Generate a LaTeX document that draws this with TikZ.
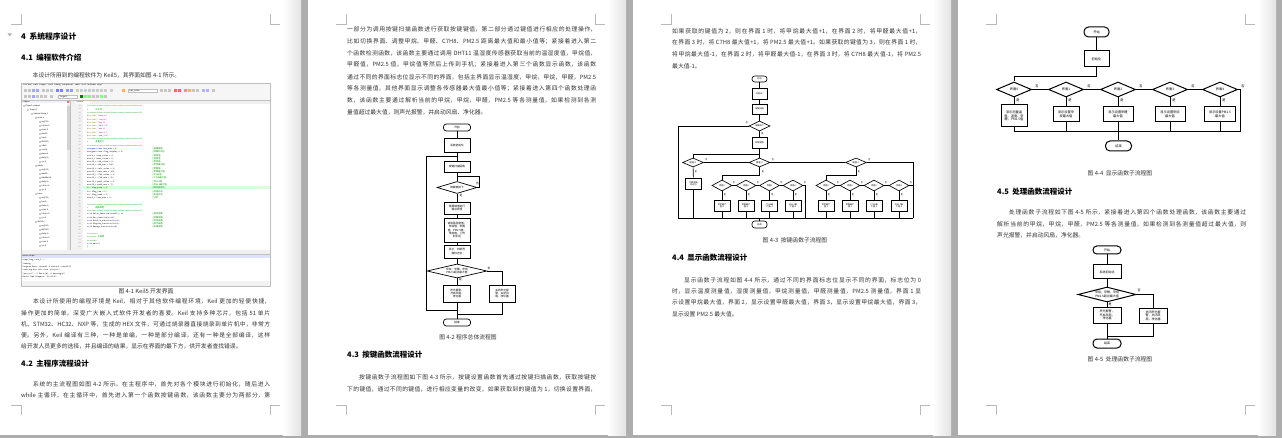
\documentclass[tikz,border=0pt]{standalone}
\usepackage{fontspec}
\setmainfont{Noto Sans CJK SC}
\usetikzlibrary{shapes.geometric}
\XeTeXlinebreaklocale "zh"
\XeTeXlinebreakskip=0pt plus 1pt minus 0.1pt
\definecolor{pagegray}{gray}{0.68}
\definecolor{kcom}{RGB}{0,150,0}
\definecolor{kstr}{RGB}{150,0,150}
\definecolor{kinc}{RGB}{140,120,0}
\definecolor{kkey}{RGB}{0,0,190}
\definecolor{kbit}{RGB}{190,0,0}
\newcommand{\justln}[2]{\parbox{#1}{\parfillskip=0pt\relax #2}}
\newcommand{\codeln}[2]{\makebox[65pt][l]{#1}{\color{kcom}\rmfamily #2}}
\begin{document}
\begin{tikzpicture}[x=1pt, y=-1pt,
    body/.style={anchor=west, inner sep=0pt, text=black!80, font=\fontsize{5.8}{6}\selectfont},
    head/.style={anchor=west, inner sep=0pt, font=\fontsize{7.5}{8}\selectfont\bfseries},
    capt/.style={inner sep=0pt, text=black!80, font=\fontsize{5.8}{6}\selectfont},
    fbox/.style={draw, inner sep=0.3pt, align=center},
    fterm/.style={draw, rounded corners=2.8pt, inner sep=0.3pt, align=center},
    fdia/.style={draw, diamond, inner sep=0pt, align=center},
    lab/.style={inner sep=0pt},
    wtext/.style={anchor=west, inner sep=0pt, font=\fontsize{2.1}{2.4}\selectfont},
    wcode/.style={inner sep=0pt, align=left, font=\ttfamily\fontsize{2.2}{3.27}\selectfont}]
\useasboundingbox (0,0) rectangle (1282,438);

% pages
\fill[pagegray] (0,0) rectangle (1282,438);
\foreach \px in {-17,308,633,958} {
    \fill[white] (\px,0) rectangle (\px+318,435);
    \shade[left color=white, right color=gray!22] (\px+300,0) rectangle (\px+318,435);
    \draw[gray!55, line width=0.5pt] (\px+28,24) -- (\px+38,24) -- (\px+38,14);
    \draw[gray!55, line width=0.5pt] (\px+297,24) -- (\px+287,24) -- (\px+287,14);
    \draw[gray!55, line width=0.5pt] (\px+28,405) -- (\px+38,405) -- (\px+38,415);
    \draw[gray!55, line width=0.5pt] (\px+297,405) -- (\px+287,405) -- (\px+287,415);
}
\fill[gray!60] (7.5,33.5) -- (12,33.5) -- (9.75,36.5) -- cycle;

% page 1
\node[head, font=\fontsize{7.8}{8}\selectfont\bfseries] (h4) at (21,37) {4\ \ 系统程序设计};
\node[head] (h41) at (21,58) {4.1\ \ 编程软件介绍};
\node[body] (t41) at (32.5,75) {本设计所用到的编程软件为 Keil5，其界面如图 4-1 所示。};

% Keil5 window
\fill[white] (21,83) rectangle (270,286);
\fill[gray!7] (21,83) rectangle (270,100);
\node[wtext] (wmenu) at (23,85.4) {File\ \ \ Edit\ \ \ View\ \ \ Project\ \ \ Flash\ \ \ Debug\ \ \ Peripherals\ \ \ Tools\ \ \ SVCS\ \ \ Window\ \ \ Help};
\foreach \ix/\ic in {24/gray!45, 28/gray!45, 32/blue!35, 36/blue!35, 42/gray!45, 46/gray!45, 50/gray!45,
    56/blue!50, 60/blue!50, 66/blue!40, 70/blue!40, 76/gray!40, 80/gray!40, 84/gray!40, 88/gray!40,
    92/gray!40, 96/gray!40, 100/gray!40, 104/gray!40, 110/gray!40, 122/orange!60, 160/gray!45,
    164/gray!45, 168/gray!45, 174/red!60, 178/red!60, 184/red!45, 188/orange!60, 192/gray!45,
    196/gray!45, 202/blue!30, 206/blue!30, 212/gray!45}
    \fill[\ic] (\ix,89.3) rectangle ++(2.7,2.7);
\fill[white] (128,89) rectangle (157,92.3);
\draw[gray!50, line width=0.2pt] (128,89) rectangle (157,92.3);
\node[wtext] (wdrop) at (129.5,90.7) {key\_value};
\foreach \ix/\ic in {24/gray!45, 28/gray!45, 32/blue!35, 36/gray!45, 40/gray!45, 44/gray!45, 50/gray!45,
    80/green!50!black, 84/green!50, 88/green!50, 92/gray!45, 96/gray!45, 100/green!50, 104/gray!45}
    \fill[\ic] (\ix,95.2) rectangle ++(2.7,2.7);
\fill[white] (58,94.9) rectangle (77,98.2);
\draw[gray!50, line width=0.2pt] (58,94.9) rectangle (77,98.2);
\node[wtext] (wtarget) at (59.5,96.6) {Target 1};

% project panel
\fill[blue!6] (21,100) rectangle (70,103.5);
\node[wtext] (wproj) at (22.5,101.8) {Project};
\fill[red!60] (66.5,100.6) rectangle (69,103);
\foreach \lv/\nm [count=\i from 0] in {0/Project: project, 1/Target 1, 2/Source Group 1, 3/main.c,
    4/reg52.h, 4/intrins.h, 4/main.h, 4/oled.h, 4/key.h, 4/dht11.h, 4/adc.h, 4/uart.h, 4/pwm.h,
    4/delay.h, 4/sys.h, 3/oled.c, 4/reg52.h, 4/oled.h, 4/oledfont.h, 4/delay.h, 4/intrins.h, 4/sys.h,
    3/key.c, 4/reg52.h, 4/key.h, 4/delay.h, 4/main.h, 4/intrins.h, 4/sys.h, 3/dht11.c, 4/reg52.h,
    4/dht11.h, 4/delay.h, 4/intrins.h, 4/main.h, 4/sys.h} {
    \fill[gray!40] (23+4*\lv,105.2+4*\i) rectangle ++(1.6,1.6);
    \node[wtext, font=\fontsize{2}{2.2}\selectfont] (wt\i) at (25.5+4*\lv,106+4*\i) {\nm};
}
\fill[gray!15] (66.5,104) rectangle (70,250);
\fill[gray!35] (67,106) rectangle (69.5,150);
\fill[gray!10] (21,250) rectangle (70,254);
\node[wtext, font=\fontsize{1.6}{2}\selectfont] (wtab1) at (22,252) {Project};
\node[wtext, font=\fontsize{1.6}{2}\selectfont] (wtab2) at (33,252) {Books};
\node[wtext, font=\fontsize{1.6}{2}\selectfont] (wtab3) at (43,252) {Functions};
\node[wtext, font=\fontsize{1.6}{2}\selectfont] (wtab4) at (56,252) {Templates};

% editor
\fill[gray!12] (70,100) rectangle (270,104);
\fill[white] (75,100.4) rectangle (90,104);
\node[wtext] (wtab) at (76.5,102.2) {main.c};
\fill[gray!10] (70,104) rectangle (83,250);
\fill[green!15] (83,186.1) rectangle (270,189.4);
\foreach \i [evaluate=\i as \ln using int(\i+12)] in {0,...,43}
    \node[anchor=east, inner sep=0pt, text=gray, font=\ttfamily\fontsize{2}{2}\selectfont] (wl\i) at (81,106+3.27*\i) {\ln};
\node[wcode, anchor=north west] (wsrc) at (87,104.8) {\rule{0pt}{2pt}%
\textcolor{kcom}{/**********************************************}\\
\textcolor{kcom}{*\ \ \ \ \ \ {\rmfamily 头文件}}\\
\textcolor{kcom}{**********************************************/}\\
\textcolor{kinc}{\#include} \textcolor{kstr}{"main.h"}\\
\textcolor{kinc}{\#include} \textcolor{kstr}{"oled.h"}\\
\textcolor{kinc}{\#include} \textcolor{kstr}{"key.h"}\\
\textcolor{kinc}{\#include} \textcolor{kstr}{"dht11.h"}\\
\textcolor{kinc}{\#include} \textcolor{kstr}{"adc.h"}\\
\textcolor{kinc}{\#include} \textcolor{kstr}{"uart.h"}\\
\textcolor{kinc}{\#include} \textcolor{kstr}{"pwm\_1.h"}\\
\textcolor{kcom}{/**********************************************}\\
\textcolor{kcom}{*\ \ \ \ \ \ {\rmfamily 变量定义}}\\
\textcolor{kcom}{**********************************************/}\\
\codeln{\textcolor{kkey}{unsigned char} key\_num = 0;}{//按键键值}\\
\codeln{\textcolor{kkey}{unsigned char} flag\_display = 0;}{//界面标志位}\\
\codeln{uint8\_t temp\_value = 0;}{//温度值}\\
\codeln{uint8\_t humi\_value = 0;}{//湿度值}\\
\codeln{uint16\_t ch4\_value = 0;}{//甲烷值}\\
\codeln{uint16\_t ch4\_max = 500;}{//甲烷最大值}\\
\codeln{uint16\_t ch2o\_value = 0;}{//甲醛值}\\
\codeln{uint16\_t ch2o\_max = 100;}{//甲醛最大值}\\
\codeln{uint16\_t c7h8\_value = 0;}{//C7H8值}\\
\codeln{uint16\_t c7h8\_max = 50;}{//C7H8最大值}\\
\codeln{uint16\_t pm25\_value = 0;}{//PM2.5值}\\
\codeln{uint16\_t pm25\_max = 75;}{//PM2.5最大值}\\
\codeln{\textcolor{kbit}{bit} flag\_beep = 0;}{//蜂鸣器标志}\\
\codeln{\textcolor{kbit}{bit} flag\_fan = 0;}{//风扇标志}\\
\codeln{\textcolor{kbit}{bit} flag\_send = 0;}{//发送标志}\\
\codeln{uint8\_t time\_num = 0;}{//计时}\\
\mbox{}\\
\textcolor{kcom}{/**********************************************}\\
\textcolor{kcom}{*\ \ \ \ \ \ {\rmfamily 函数声明}}\\
\textcolor{kcom}{**********************************************/}\\
\codeln{\textcolor{kkey}{void} Delay\_function(uint16\_t x);}{//延时函数}\\
\codeln{\textcolor{kkey}{void} Key\_function(\textcolor{kkey}{void});}{//按键函数}\\
\codeln{\textcolor{kkey}{void} Monitor\_function(\textcolor{kkey}{void});}{//检测函数}\\
\codeln{\textcolor{kkey}{void} Display\_function(\textcolor{kkey}{void});}{//显示函数}\\
\codeln{\textcolor{kkey}{void} Manage\_function(\textcolor{kkey}{void});}{//处理函数}\\
\mbox{}\\
\textcolor{kcom}{/********}\\
\textcolor{kcom}{********\ {\rmfamily 主函数}}\\
\textcolor{kcom}{********/}\\
\textcolor{kkey}{void} main()\\
\{};
\fill[gray!12] (21,250) rectangle (270,254.3);
\fill[gray!10] (21,250) rectangle (70,254);
\fill[blue!12] (21,254.5) rectangle (270,258);
\node[wtext] (wbo) at (22.5,256.2) {Build Output};
\node[wcode, anchor=north west, font=\ttfamily\fontsize{2.2}{3.4}\selectfont] (wout) at (22.5,258.6) {\rule{0pt}{2pt}%
compiling oled\_1.c...\\
linking...\\
Program Size: data=61.4 xdata=0 code=4512\\
creating hex file from "project"...\\
"project" - 0 Error(s), 0 Warning(s).\\
Build Time Elapsed:\ \ 00:00:03};
\fill[gray!10] (21,281) rectangle (270,286);
\draw[gray!50, line width=0.3pt] (21,100) -- (270,100);
\draw[gray!50, line width=0.3pt] (70,100) -- (70,250);
\draw[gray!50, line width=0.3pt] (21,254.3) -- (270,254.3);
\draw[gray!50, line width=0.3pt] (21,83) rectangle (270,286);

\node[capt] (c41) at (146,291) {图 4-1 Keil5 开发界面};
\node[body] (p1a) at (33,301) {\justln{237pt}{本设计所使用的编程环境是 Keil，相对于其他软件编程环境，Keil 更加的轻便快捷，}};
\node[body] (p1b) at (21,313) {\justln{249pt}{操作更加的简单，深受广大嵌入式软件开发者的喜爱。Keil 支持多种芯片，包括 51 单片}};
\node[body] (p1c) at (21,324) {\justln{249pt}{机、STM32、HC32、NXP 等，生成的 HEX 文件，可通过烧录器直接烧录到单片机中，非常方}};
\node[body] (p1d) at (21,335) {\justln{249pt}{便。另外，Keil 编译有三种，一种是单编，一种是部分编译，还有一种是全部编译，这样}};
\node[body] (p1e) at (21,346) {给开发人员更多的选择，并且编译的结果，显示在界面的最下方，供开发者查找错误。};
\node[head] (h42) at (21,364) {4.2\ \ 主程序流程设计};
\node[body] (p2a) at (33,384) {\justln{237pt}{系统的主流程图如图 4-2 所示。在主程序中，首先对各个模块进行初始化，随后进入}};
\node[body] (p2b) at (21,395) {\justln{249pt}{while 主循环，在主循环中，首先进入第一个函数按键函数，该函数主要分为两部分，第}};

% page 2
\node[body] (q1a) at (347,29.5) {\justln{249pt}{一部分为调用按键扫描函数进行获取按键键值，第二部分通过键值进行相应的处理操作，}};
\node[body] (q1b) at (347,41.4) {\justln{249pt}{比如切换界面、调整甲烷、甲醛、C7H8、PM2.5 距离最大值和最小值等；紧接着进入第二}};
\node[body] (q1c) at (347,53.2) {\justln{249pt}{个函数检测函数，该函数主要通过调用 DHT11 温湿度传感器获取当前的温湿度值，甲烷值，}};
\node[body] (q1d) at (347,65) {\justln{249pt}{甲醛值，PM2.5 值，甲烷值等然后上传到手机；紧接着进入第三个函数显示函数，该函数}};
\node[body] (q1e) at (347,76.9) {\justln{249pt}{通过不同的界面标志位显示不同的界面，包括主界面显示温湿度，甲烷，甲烷，甲醛，PM2.5}};
\node[body] (q1f) at (347,88.8) {\justln{249pt}{等各测量值，其他界面显示调整各传感器最大值最小值等；紧接着进入第四个函数处理函}};
\node[body] (q1g) at (347,100.6) {\justln{249pt}{数，该函数主要通过解析当前的甲烷，甲烷，甲醛，PM2.5 等各测量值，如果检测到各测}};
\node[body] (q1h) at (347,112.5) {量值超过最大值，则声光报警，并启动风扇、净化器。};

% main flow chart
\begin{scope}[font=\fontsize{2.7}{3.1}\selectfont, line width=0.7pt]
\node[fterm, minimum width=27pt, minimum height=7pt] (mstart) at (457,127.5) {开始};
\node[fbox, minimum width=26pt, minimum height=14pt] (minit) at (457,145) {系统初始化};
\node[fbox, minimum width=26pt, minimum height=11pt] (mkey) at (457,166.5) {按键扫描函数};
\node[fdia, aspect=3.3, minimum width=40pt, minimum height=12pt] (mdia1) at (457,187.5) {按键被按下};
\node[fbox, minimum width=26pt, minimum height=12pt] (mproc) at (457,208) {根据键值进行\\相应处理};
\node[fbox, minimum width=26pt, minimum height=24pt] (mread) at (457,230) {读取温湿度值，\\甲烷值，甲醛\\值，PM2.5值，\\甲烷值，上传\\到手机};
\node[fbox, minimum width=26pt, minimum height=13pt] (mdisp) at (457,251.5) {显示，判断界\\面标志位};
\node[fdia, aspect=4.3, minimum width=60pt, minimum height=14pt] (mdia2) at (457,271) {甲烷、甲醛、甲烷\\PM2.5超过最大值};
\node[fbox, minimum width=27pt, minimum height=17pt] (malarm) at (457,293.5) {声光报警，\\开启风扇，\\净化器};
\node[fbox, minimum width=26pt, minimum height=17pt] (moff) at (502,293.5) {关闭声光报\\警，关闭风\\扇，净化器};
\node[fterm, minimum width=27pt, minimum height=7pt] (mend) at (457,322.5) {结束};
\coordinate (mlp1) at (479,176);
\coordinate (mlp2) at (426,310);
\coordinate (mlp3) at (426,156);
\coordinate (mjoin) at (457,314);
\draw (mstart) -- (minit);
\draw (minit) -- (mkey);
\draw (mkey) -- (mdia1);
\draw (mdia1.east) -| (mlp1) -- (mlp1 -| mkey.south);
\draw (mdia1) -- (mproc);
\draw (mproc) -- (mread);
\draw (mread) -- (mdisp);
\draw (mdisp) -- (mdia2);
\draw (mdia2) -- (malarm);
\draw (mdia2.east) -| (moff.north);
\draw (malarm) -- (mend);
\draw (moff.south) |- (mjoin);
\draw (mlp2 -| malarm.south) -- (mlp2) -- (mlp3) -- (mlp3 -| minit.south);
\node[lab] (mn1) at (477.5,184) {否};
\node[lab] (my1) at (461,196) {是};
\node[lab] (mn2) at (489,268.5) {否};
\node[lab] (my2) at (460.5,280) {是};
\end{scope}
\node[capt] (c42) at (468,337) {图 4-2 程序总体流程图};
\node[head] (h43) at (347,355) {4.3\ \ 按键函数流程设计};
\node[body] (q2a) at (359,377) {\justln{237pt}{按键函数子流程图如下图 4-3 所示，按键设置函数首先通过按键扫描函数，获取按键按}};
\node[body] (q2b) at (347,389) {\justln{249pt}{下的键值，通过不同的键值，进行相应变量的改变，如果获取到的键值为 1，切换设置界面，}};

% page 3
\node[body] (r1a) at (672,31) {\justln{249pt}{如果获取的键值为 2，则在界面 1 时，将甲烷最大值+1，在界面 2 时，将甲醛最大值+1，}};
\node[body] (r1b) at (672,42.7) {\justln{249pt}{在界面 3 时，将 C7H8 最大值+1，将 PM2.5 最大值+1。如果获取的键值为 3，则在界面 1 时，}};
\node[body] (r1c) at (672,54.3) {\justln{249pt}{将甲烷最大值-1，在界面 2 时，将甲醛最大值-1，在界面 3 时，将 C7H8 最大值-1，将 PM2.5}};
\node[body] (r1d) at (672,66) {最大值-1。};

% key flow chart
\begin{scope}[font=\fontsize{2.1}{2.5}\selectfont, line width=0.65pt]
\node[fterm, minimum width=15pt, minimum height=6pt] (kstart) at (759.5,79) {开始};
\node[fbox, minimum width=15pt, minimum height=11pt] (kinit) at (759.5,93.5) {初始化};
\node[fbox, minimum width=15pt, minimum height=10pt] (kscan) at (759.5,109) {按键扫描};
\node[fdia, aspect=2.1, minimum width=21pt, minimum height=10pt] (kdia) at (759.5,126) {按键按下};
\node[fbox, minimum width=15pt, minimum height=11pt] (kget) at (759.5,142.5) {获取键值};
\node[fdia, aspect=2.3, minimum width=21pt, minimum height=9pt] (kd1) at (693,162.5) {键值=1};
\node[fdia, aspect=2.3, minimum width=21pt, minimum height=9pt] (kd2) at (759.5,162.5) {键值=2};
\node[fdia, aspect=2.3, minimum width=21pt, minimum height=9pt] (kd3) at (856,162.5) {键值=3};
\node[fbox, minimum width=16pt, minimum height=11pt] (ksw) at (693.5,183.5) {切换界面\\标志位};
\foreach \cx [count=\i] in {722,746,769.5,793}
    \node[fdia, aspect=1.8, minimum width=20pt, minimum height=11pt] (ka\i) at (\cx,185.5) {界面\i};
\foreach \cx [count=\i] in {826,850,874,899}
    \node[fdia, aspect=1.8, minimum width=20pt, minimum height=11pt] (ke\i) at (\cx,185.5) {界面\i};
\foreach \cx/\tx [count=\i] in {722/甲烷最大\\值+1, 746/甲醛最大\\值+1, 769.5/C7H8最\\大值+1, 793/PM2.5最\\大值+1}
    \node[fbox, minimum width=16pt, minimum height=11pt] (kb\i) at (\cx,205.5) {\tx};
\foreach \cx/\tx [count=\i] in {826/甲烷最大\\值-1, 850/甲醛最大\\值-1, 874/C7H8最\\大值-1, 899/PM2.5最\\大值-1}
    \node[fbox, minimum width=16pt, minimum height=11pt] (kf\i) at (\cx,205.5) {\tx};
\node[fterm, minimum width=15pt, minimum height=7pt] (kend) at (759.5,224.5) {结束};
\coordinate (kbusL) at (678,218);
\coordinate (kbusR) at (913,218);
\coordinate (kc1) at (759.5,154);
\coordinate (kc2) at (759.5,175);
\coordinate (kc3) at (856,175);
\coordinate (ksub) at (805,218);
\draw (kstart) -- (kinit);
\draw (kinit) -- (kscan);
\draw (kscan) -- (kdia);
\draw (kdia) -- (kget);
\draw (kdia.west) -| (kbusL);
\draw (kget) -- (kd2);
\draw (kc1) -| (kd1.north);
\draw (kd1) -- (kd2);
\draw (kd2) -- (kd3);
\draw (kd3.east) -| (kbusR);
\draw (kd1) -- (ksw);
\draw (ksw.south) -- (ksw.south |- kbusL);
\draw (kd2.south) -- (kc2) -| (ka1.north);
\draw (kd3.south) -- (kc3) -| (ke1.north);
\foreach \i/\j in {1/2,2/3,3/4} {
    \draw (ka\i) -- (ka\j);
    \draw (ke\i) -- (ke\j);
}
\draw (ka4.east) -| (ksub);
\draw (ke4.east) -- (ke4.east -| kbusR);
\foreach \i in {1,...,4} {
    \draw (ka\i) -- (kb\i);
    \draw (kb\i.south) -- (kb\i.south |- kbusL);
    \draw (ke\i) -- (kf\i);
    \draw (kf\i.south) -- (kf\i.south |- kbusL);
}
\draw (kbusL) -- (kbusR);
\draw (kbusL -| kend.north) -- (kend);
\node[lab] (kn0) at (747,122.5) {否};
\node[lab] (ky0) at (762.5,133.5) {是};
\node[lab] (kn1) at (706.5,160) {否};
\node[lab] (ky1) at (696,171.5) {是};
\node[lab] (kn2) at (773,160) {否};
\node[lab] (ky2) at (763,171.5) {是};
\node[lab] (kn3) at (869.5,160) {否};
\node[lab] (ky3) at (859,171.5) {是};
\foreach \cx [count=\i] in {722,746,769.5,793} {
    \node[lab] (kna\i) at (\cx+12,183) {否};
    \node[lab] (kya\i) at (\cx+3,194.5) {是};
}
\foreach \cx [count=\i] in {826,850,874,899} {
    \node[lab] (kne\i) at (\cx+12,183) {否};
    \node[lab] (kye\i) at (\cx+3,194.5) {是};
}
\end{scope}
\node[capt] (c43) at (795,240) {图 4-3\ \ 按键函数子流程图};
\node[head] (h44) at (672,258) {4.4\ \ 显示函数流程设计};
\node[body] (r2a) at (684,280) {\justln{237pt}{显示函数子流程如图 4-4 所示，通过不同的界面标志位显示不同的界面，标志位为 0}};
\node[body] (r2b) at (672,291) {\justln{249pt}{时，显示温度测量值，湿度测量值，甲烷测量值，甲醛测量值，PM2.5 测量值，界面 1 显}};
\node[body] (r2c) at (672,302) {\justln{249pt}{示设置甲烷最大值，界面 2，显示设置甲醛最大值，界面 3，显示设置甲烷最大值，界面 3，}};
\node[body] (r2d) at (672,314) {显示设置 PM2.5 最大值。};

% page 4: display flow chart
\begin{scope}[font=\fontsize{3.2}{3.8}\selectfont, line width=1pt]
\node[fterm, rounded corners=4.5pt, minimum width=25pt, minimum height=10pt] (sstart) at (1096.5,32) {开始};
\node[fbox, minimum width=25pt, minimum height=16pt] (sinit) at (1096.5,59) {初始化};
\foreach \cx [count=\i from 0] in {1014,1066,1118,1170,1220}
    \node[fdia, aspect=2.3, minimum width=35pt, minimum height=15pt] (sd\i) at (\cx,89.5) {界面\i};
\node[fbox, minimum width=26pt, minimum height=22pt] (sb0) at (1014,116) {显示测量温\\度、湿度、甲\\醛、PM2.5值};
\node[fbox, minimum width=26pt, minimum height=15pt] (sb1) at (1066,114.5) {显示设置甲\\烷最大值};
\node[fbox, minimum width=30pt, minimum height=15pt] (sb2) at (1118,114.5) {显示设置甲醛\\最大值};
\node[fbox, minimum width=30pt, minimum height=15pt] (sb3) at (1170,114.5) {显示设置甲烷\\最大值};
\node[fbox, minimum width=31pt, minimum height=15pt] (sb4) at (1220,114.5) {显示设置PM2.5\\最大值};
\node[fterm, rounded corners=4.5pt, minimum width=26pt, minimum height=10pt] (send) at (1118.5,146) {结束};
\coordinate (sc) at (1096.5,77);
\coordinate (sbusL) at (1014,132);
\coordinate (sbusR) at (1240,132);
\draw (sstart) -- (sinit);
\draw (sinit.south) -- (sc) -| (sd0.north);
\foreach \i/\j in {0/1,1/2,2/3,3/4}
    \draw (sd\i) -- (sd\j);
\draw (sd4.east) -| (sbusR);
\foreach \i in {0,...,4} {
    \draw (sd\i) -- (sb\i);
    \draw (sb\i.south) -- (sb\i.south |- sbusL);
}
\draw (sbusL) -- (sbusR);
\draw (sbusL -| send.north) -- (send);
\foreach \cx [count=\i from 0] in {1014,1066,1118,1170,1220} {
    \node[lab] (sn\i) at (\cx+23,86) {否};
    \node[lab] (sy\i) at (\cx+4,100.5) {是};
}
\end{scope}
\node[capt] (c44) at (1120,173) {图 4-4\ \ 显示函数子流程图};
\node[head] (h45) at (997,192) {4.5\ \ 处理函数流程设计};
\node[body] (s1a) at (1009,212) {\justln{237pt}{处理函数子流程如下图 4-5 所示，紧接着进入第四个函数处理函数，该函数主要通过}};
\node[body] (s1b) at (997,224) {\justln{249pt}{解析当前的甲烷，甲烷，甲醛，PM2.5 等各测量值，如果检测到各测量值超过最大值，则}};
\node[body] (s1c) at (997,235) {声光报警，并启动风扇，净化器。};

% process flow chart
\begin{scope}[font=\fontsize{3}{3.4}\selectfont, line width=1pt]
\node[fterm, rounded corners=3.8pt, minimum width=28pt, minimum height=8pt] (pstart) at (1107,250) {开始};
\node[fbox, minimum width=28pt, minimum height=14pt] (pinit) at (1107,272) {系统初始化};
\node[fdia, aspect=3.9, minimum width=58pt, minimum height=15pt] (pdia) at (1107,294.5) {甲烷、甲醛、甲烷\\PM2.5超过最大值};
\node[fbox, minimum width=28pt, minimum height=16pt] (palarm) at (1107,315) {声光报警，\\开启风扇，\\净化器};
\node[fbox, minimum width=28pt, minimum height=15pt] (poff) at (1153,315.5) {关闭声光报\\警，关闭风\\扇，净化器};
\node[fterm, rounded corners=4pt, minimum width=28pt, minimum height=9pt] (pend) at (1107,343.5) {结束};
\coordinate (pjoin) at (1107,336);
\draw (pstart) -- (pinit);
\draw (pinit) -- (pdia);
\draw (pdia) -- (palarm);
\draw (palarm) -- (pend);
\draw (pdia.east) -| (poff.north);
\draw (poff.south) |- (pjoin);
\node[lab] (pn1) at (1139,290.5) {否};
\node[lab] (py1) at (1110,304.5) {是};
\end{scope}
\node[capt] (c45) at (1120,359) {图 4-5\ \ 处理函数子流程图};
\end{tikzpicture}
\end{document}
